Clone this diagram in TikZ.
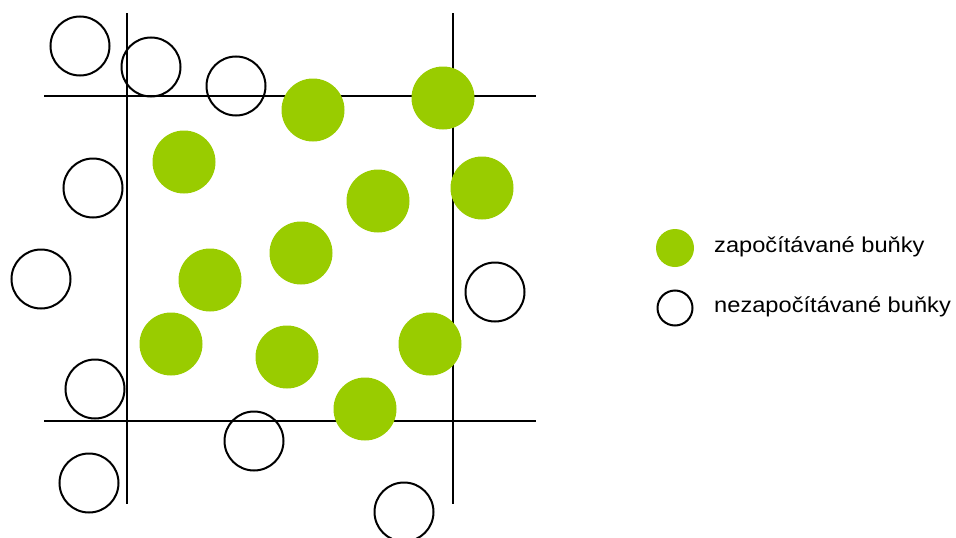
\documentclass[tikz,border=0pt]{standalone}
\usepackage{fontspec}
\setmainfont{Liberation Sans}
\definecolor{zelena}{RGB}{153,204,0}
\begin{document}
\begin{tikzpicture}[x=1pt,y=-1pt,
  zapocitana/.style={circle,fill=zelena,inner sep=0pt,minimum size=63pt},
  nezapocitana/.style={circle,draw,line width=2pt,inner sep=0pt,minimum size=59pt},
  popis/.style={anchor=base west,inner sep=0pt,font=\fontsize{21.5}{24}\selectfont}]
 \useasboundingbox (0,0) rectangle (956,538);
 % mrizka
 \draw[line width=2pt] (126.5,13)--(126.5,504);
 \draw[line width=2pt] (453,13)--(453,504);
 \draw[line width=2pt] (44,95.5)--(536,95.5);
 \draw[line width=2pt] (44,421)--(536,421);
 % bunky uvnitr ramecku
 \foreach \x/\y [count=\i] in {313/110,443/98,184/162,378/201,482/188,301/253,
   210/280,171/344,287/357,430/344,365/409}
  \node[zapocitana] (z\i) at (\x,\y) {};
 % bunky mimo
 \foreach \x/\y [count=\i] in {80/46,151/67,236/86,93/188,41/279,495/292,
   95/389,254/441,89/483,404/512}
  \node[nezapocitana] (n\i) at (\x,\y) {};
 % legenda
 \node[zapocitana,minimum size=38pt] (lz) at (675,248) {};
 \node[nezapocitana,minimum size=35pt] (ln) at (675,308) {};
 \node[popis] (tz) at (714,252) {\scalebox{1.1}[1]{započítávané buňky}};
 \node[popis] (tn) at (714,312) {\scalebox{1.1}[1]{nezapočítávané buňky}};
\end{tikzpicture}
\end{document}
